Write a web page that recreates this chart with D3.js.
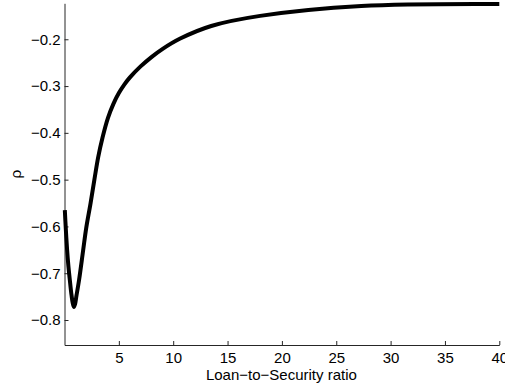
<!DOCTYPE html>
<html>
<head>
<meta charset="utf-8">
<script src="https://cdn.jsdelivr.net/npm/d3@7"></script>
<style>
  body { margin: 0; background: #fff; }
  text { font-family: "Liberation Sans", Arial, sans-serif; }
</style>
</head>
<body>
<div id="chart"></div>
<script>
// Loan-to-security ratio vs correlation rho
const ratio = [0.03, 0.12, 0.24, 0.36, 0.49, 0.62, 0.75, 0.86, 0.97, 1.1, 1.34, 1.71, 2.0, 2.4, 2.75,
               3.1, 3.5, 4.0, 4.5, 5.0, 5.5, 6.0, 7.0, 8.0, 9.0, 10.6, 13.5, 18.0, 27.3, 40];
const rho = [-0.565, -0.605, -0.65, -0.685, -0.7145, -0.742, -0.763, -0.772, -0.766, -0.748, -0.7145,
             -0.652, -0.603, -0.55, -0.50, -0.452, -0.41, -0.368, -0.338, -0.315, -0.297, -0.282,
             -0.258, -0.238, -0.221, -0.199, -0.1716, -0.150, -0.1288, -0.1245];
const xTicks = [5, 10, 15, 20, 25, 30, 35, 40];
const yTicks = [-0.8, -0.7, -0.6, -0.5, -0.4, -0.3, -0.2];

const width = 505, height = 387;
const plotLeft = 64.5, plotRight = 499.3, plotTop = 3.3, plotBottom = 345;

const svg = d3.select('#chart').append('svg')
  .attr('width', width)
  .attr('height', height);

const x = d3.scaleLinear().domain([0, 40]).range([plotLeft, plotRight]);
const y = d3.scaleLinear().domain([-0.8534, -0.1231]).range([plotBottom, plotTop]);

// axes, ticks pointing inward like matlab
const xAxis = d3.axisBottom(x).tickValues(xTicks).tickSizeInner(-4).tickSizeOuter(0).tickPadding(7.5);
const yAxis = d3.axisLeft(y).tickValues(yTicks).tickSizeInner(-4).tickSizeOuter(0).tickPadding(4)
  .tickFormat(d3.format('.1f'));

const gx = svg.append('g').attr('transform', `translate(0,${plotBottom})`).call(xAxis);
const gy = svg.append('g').attr('transform', `translate(${plotLeft},0)`).call(yAxis);

[gx, gy].forEach(g => {
  g.select('.domain').attr('stroke', '#262626').attr('stroke-width', 1);
  g.selectAll('.tick line').attr('stroke', '#262626');
  g.selectAll('.tick text').attr('fill', '#000').style('font-size', '15px').style('font-family', '"Liberation Sans", Arial, sans-serif');
});

// curve
const pts = ratio.map((r, i) => [r, rho[i]]);
const line = d3.line().x(d => x(d[0])).y(d => y(d[1])).curve(d3.curveCatmullRom.alpha(0.5));
svg.append('path')
  .datum(pts)
  .attr('d', line)
  .attr('fill', 'none')
  .attr('stroke', '#000')
  .attr('stroke-width', 4)
  .attr('stroke-linejoin', 'round');

// labels
svg.append('text')
  .attr('x', (plotLeft + plotRight) / 2 - 0.5)
  .attr('y', 380)
  .attr('text-anchor', 'middle')
  .style('font-size', '15px')
  .text('Loan\u2212to\u2212Security ratio');

svg.append('text')
  .attr('transform', `translate(21,${(plotTop + plotBottom) / 2}) rotate(-90)`)
  .attr('text-anchor', 'middle')
  .style('font-size', '15.5px')
  .text('\u03c1');
</script>
</body>
</html>
